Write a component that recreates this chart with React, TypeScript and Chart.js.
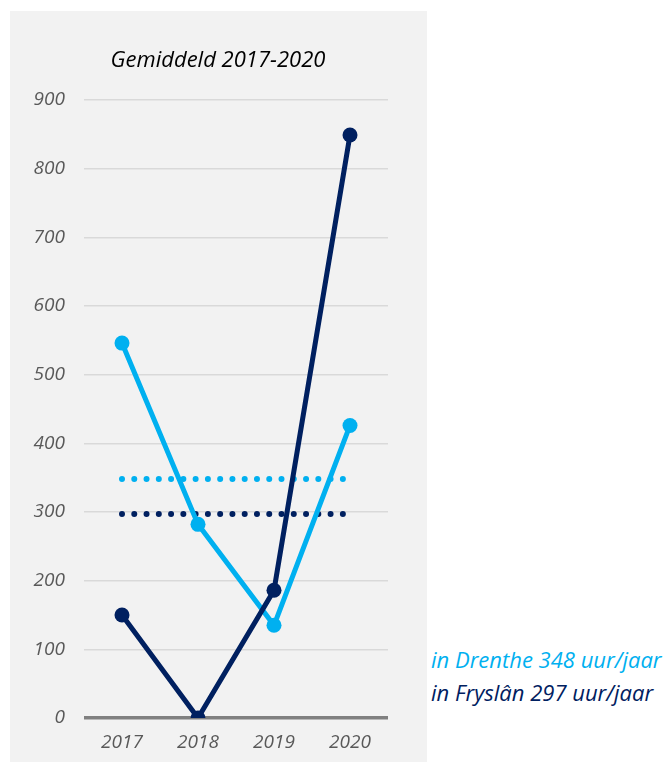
import React, { useEffect, useRef } from "react";
import { Chart, registerables } from "chart.js";

Chart.register(...registerables);

const years = ["2017", "2018", "2019", "2020"];
const drenthe = [546, 282, 135, 426];
const fryslan = [150, 0, 186, 849];
const drentheAvg = [348, 348, 348, 348];
const fryslanAvg = [297, 297, 297, 297];
const yTicks = [0, 100, 200, 300, 400, 500, 600, 700, 800, 900];
const title = "Gemiddeld 2017-2020";
const noteDrenthe = "in Drenthe 348 uur/jaar";
const noteFryslan = "in Fryslân 297 uur/jaar";

const LIGHT = "#00b0f0";
const DARK = "#002060";
const FONT = "'Open Sans', sans-serif";

const titlePlugin = {
  id: "customTitle",
  afterDraw(chart: any) {
    const ctx = chart.ctx;
    ctx.save();
    ctx.font = `italic 22px ${FONT}`;
    ctx.fillStyle = "#000000";
    ctx.textAlign = "center";
    ctx.textBaseline = "middle";
    ctx.fillText(title, chart.width / 2 - 0.5, 50);
    ctx.restore();
  },
};

export default function App() {
  const ref = useRef<HTMLCanvasElement | null>(null);
  useEffect(() => {
    if (!ref.current) return;
    const chart = new Chart(ref.current, {
      type: "line",
      data: {
        labels: years,
        datasets: [
          {
            data: fryslan,
            borderColor: DARK,
            backgroundColor: DARK,
            borderWidth: 5,
            pointRadius: 7.5,
            pointBackgroundColor: DARK,
            pointBorderWidth: 0,
            tension: 0,
          },
          {
            data: drenthe,
            borderColor: LIGHT,
            backgroundColor: LIGHT,
            borderWidth: 5,
            pointRadius: 7.5,
            pointBackgroundColor: LIGHT,
            pointBorderWidth: 0,
            tension: 0,
          },
          {
            data: drentheAvg,
            borderColor: LIGHT,
            borderWidth: 6,
            borderDash: [0, 12.27],
            borderCapStyle: "round",
            pointRadius: 0,
            tension: 0,
          },
          {
            data: fryslanAvg,
            borderColor: DARK,
            borderWidth: 6,
            borderDash: [0, 12.27],
            borderCapStyle: "round",
            pointRadius: 0,
            tension: 0,
          },
        ],
      },
      options: {
        animation: false,
        responsive: false,
        events: [],
        layout: { padding: { top: 89, right: 39, bottom: 0, left: 0 } },
        plugins: {
          legend: { display: false },
          title: { display: false },
          tooltip: { enabled: false },
        },
        scales: {
          x: {
            offset: true,
            grid: { display: false, drawTicks: false },
            border: { display: false },
            ticks: {
              padding: 13,
              color: "#595959",
              font: { family: FONT, size: 19, style: "italic" },
            },
            afterFit(scale: any) {
              scale.height = 44;
            },
          },
          y: {
            min: 0,
            max: 900,
            afterBuildTicks(scale: any) {
              scale.ticks = yTicks.map((v) => ({ value: v }));
            },
            grid: {
              drawTicks: false,
              color: (c: any) => (c.tick && c.tick.value === 0 ? "#808080" : "#d9d9d9"),
              lineWidth: (c: any) => (c.tick && c.tick.value === 0 ? 3.5 : 1.5),
            },
            border: { display: false },
            ticks: {
              padding: 19,
              color: "#595959",
              font: { family: FONT, size: 19, style: "italic" },
            },
            afterFit(scale: any) {
              scale.width = 74;
            },
          },
        },
      },
      plugins: [titlePlugin],
    } as any);
    return () => chart.destroy();
  }, []);

  return (
    <div style={{ position: "absolute", left: 0, top: 0, width: 665, height: 769, background: "#ffffff" }}>
      <div style={{ position: "absolute", left: 10, top: 11, width: 417, height: 751, background: "#f2f2f2" }}>
        <canvas ref={ref} width={417} height={751} style={{ display: "block", width: 417, height: 751 }} />
      </div>
      <div
        style={{
          position: "absolute",
          left: 431,
          top: 643,
          fontFamily: FONT,
          fontStyle: "italic",
          fontSize: 22,
          lineHeight: "33px",
          whiteSpace: "nowrap",
        }}
      >
        <div style={{ color: LIGHT }}>{noteDrenthe}</div>
        <div style={{ color: DARK }}>{noteFryslan}</div>
      </div>
    </div>
  );
}
